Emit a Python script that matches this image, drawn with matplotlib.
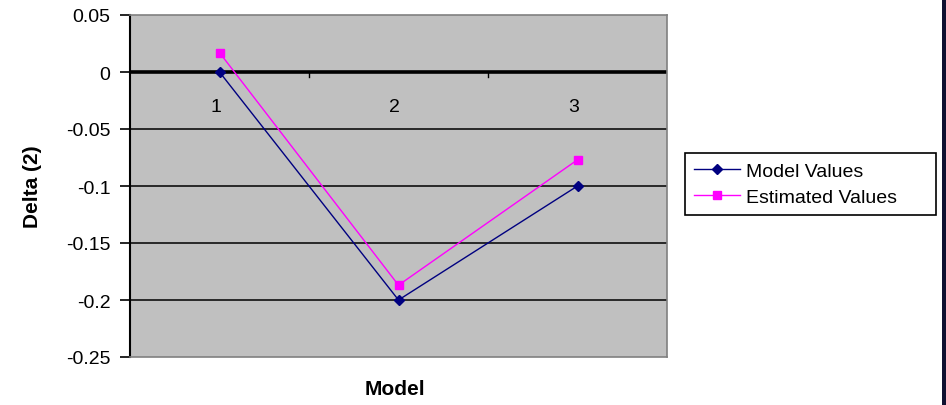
import matplotlib.pyplot as plt
from matplotlib.patches import Rectangle

categories = ["1", "2", "3"]
model_values = [0.0, -0.2, -0.1]
estimated_values = [0.017, -0.187, -0.077]
y_ticks = [0.05, 0, -0.05, -0.1, -0.15, -0.2, -0.25]

NAVY = "#000080"
MAGENTA = "#ff00ff"
PLOT_BG = "#c0c0c0"

plt.rcParams["font.family"] = ["Liberation Sans", "DejaVu Sans"]

fig = plt.figure(figsize=(9.46, 4.06), dpi=100, facecolor="white")
ax = fig.add_axes([130 / 946, 1 - 358 / 406, 537 / 946, 342 / 406])
ax.set_facecolor(PLOT_BG)

x = list(range(len(categories)))
ax.set_xlim(-0.5, len(categories) - 0.5)
ax.set_ylim(-0.25, 0.05)

# horizontal gridlines
for v in y_ticks:
    if v in (0.05, -0.25):
        continue
    ax.axhline(v, color="black", linewidth=2.6 if v == 0 else 1.1, zorder=1)

ax.plot(x, model_values, color=NAVY, marker="D", markersize=5, linewidth=1,
        label="Model Values", zorder=3)
ax.plot(x, estimated_values, color=MAGENTA, marker="s", markersize=6, linewidth=1,
        label="Estimated Values", zorder=4)

# category axis crossing at zero: labels under the zero line, ticks at boundaries
for i, c in enumerate(categories):
    ax.text(i - 0.02, -0.03, c, ha="center", va="center", fontsize=14)
for b in [0.5, 1.5]:
    ax.plot([b, b], [0, -0.004], color="black", linewidth=1, zorder=2)
ax.set_xticks([])

ax.set_yticks(y_ticks)
ax.set_yticklabels([f"{v:g}" for v in y_ticks], fontsize=14)
ax.tick_params(axis="y", direction="out", length=7, width=1.2, pad=7, color="black")

for side in ("top", "right", "bottom"):
    ax.spines[side].set_color("#808080")
    ax.spines[side].set_linewidth(1.2)
ax.spines["left"].set_color("black")
ax.spines["left"].set_linewidth(1.5)

fig.text(395 / 946, 1 - 390 / 406, "Model", ha="center", va="center",
         fontsize=15, fontweight="bold")
fig.text(33 / 946, 1 - 187 / 406, "Delta (2)", ha="center", va="center",
         rotation=90, fontsize=15, fontweight="bold")

leg = ax.legend(loc="center left", bbox_to_anchor=(685 / 946, 1 - 220 / 406, 251 / 946, 70 / 406),
                bbox_transform=fig.transFigure, mode="expand", fontsize=14,
                frameon=True, fancybox=False, edgecolor="black", facecolor="white",
                framealpha=1, handlelength=2.4, handletextpad=0.3, borderpad=0.45,
                labelspacing=0.45, borderaxespad=0)
leg.get_frame().set_linewidth(1.2)

# dark strip on the right edge of the picture
fig.patches.append(Rectangle((942 / 946, 0), 4 / 946, 1, transform=fig.transFigure,
                             facecolor="#101030", edgecolor="none"))

fig.savefig("out.png", dpi=100, facecolor="white")
